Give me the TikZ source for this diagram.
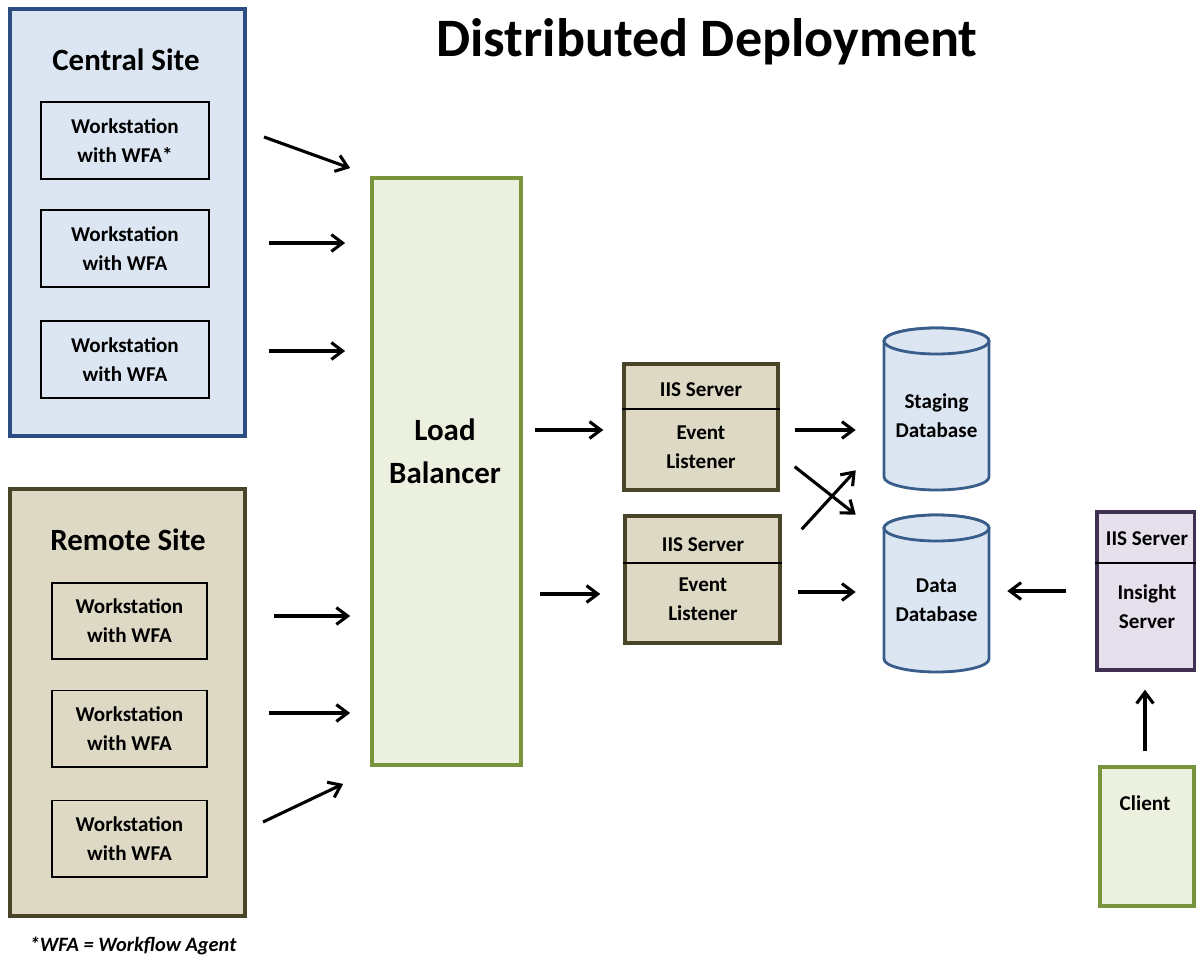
\documentclass[tikz,border=0pt]{standalone}
\usepackage{fontspec}
\setmainfont{Carlito}
\usetikzlibrary{calc,arrows.meta}
\definecolor{bluefill}{RGB}{220,230,242}
\definecolor{bluedraw}{RGB}{44,77,130}
\definecolor{dbdraw}{RGB}{56,93,138}
\definecolor{tanfill}{RGB}{221,217,196}
\definecolor{tandraw}{RGB}{73,69,41}
\definecolor{greenfill}{RGB}{235,241,222}
\definecolor{greendraw}{RGB}{119,147,60}
\definecolor{purpfill}{RGB}{229,224,236}
\definecolor{purpdraw}{RGB}{64,49,82}

\begin{document}
\begin{tikzpicture}[x=0.025cm,y=-0.025cm,
    font=\fontsize{15}{20.5}\selectfont\bfseries,
    txt/.style={align=center},
    bigtxt/.style={font=\fontsize{22}{30.6}\selectfont\bfseries, align=center},
    site/.style={draw, line width=2.4pt, minimum width=5.875cm, minimum height=10.675cm},
    wsbox/.style={draw=black, line width=1.4pt, align=center},
    server/.style={draw=tandraw, fill=tanfill, line width=2.4pt},
    db/.style={draw=dbdraw, fill=bluefill, line width=2pt},
    arr/.style={-{Straight Barb[length=2.8mm,width=4.2mm]}, line width=2.2pt}]
\useasboundingbox (0,0) rectangle (1196,958);

\node[font=\fontsize{38.5}{44}\selectfont\bfseries] (title) at (707,42) {Distributed Deployment};

\node[site, draw=bluedraw, fill=bluefill] (central) at (127.5,222.5) {};
\node[site, draw=tandraw, fill=tanfill] (remote) at (127.5,702.5) {};
\node[bigtxt] (centraltitle) at (126,60) {Central Site};
\node[bigtxt] (remotetitle) at (128,540) {Remote Site};

\node[wsbox, minimum width=4.2cm, minimum height=1.925cm] (ws1) at (125,140.5) {Workstation\\with WFA*};
\foreach \n/\y in {2/248.5, 3/359.5}
    \node[wsbox, minimum width=4.2cm, minimum height=1.925cm] (ws\n) at (125,\y) {Workstation\\with WFA};
\foreach \n/\y in {1/621, 2/728.5, 3/838.5}
    \node[wsbox, minimum width=3.875cm, minimum height=1.9cm] (rs\n) at (129.5,\y) {Workstation\\with WFA};

\node[font=\fontsize{14.5}{17}\selectfont\bfseries\itshape] (note) at (133,946) {*WFA = Workflow Agent};

\node[draw=greendraw, fill=greenfill, line width=2.6pt, minimum width=3.725cm, minimum height=14.675cm] (lb) at (446.5,471.5) {};
\node[bigtxt] (lbtext) at (445,451.5) {Load\\Balancer};

\node[server, minimum width=3.85cm, minimum height=3.15cm] (iis1) at (701,427) {};
\node[server, minimum width=3.875cm, minimum height=3.175cm] (iis2) at (702.5,579.5) {};
\draw[line width=1.2pt] ($(iis1.north west)+(0,47)$) -- ($(iis1.north east)+(0,47)$);
\draw[line width=1.2pt] ($(iis2.north west)+(0,49)$) -- ($(iis2.north east)+(0,49)$);
\node[txt] (iis1top) at (701,390) {IIS Server};
\node[txt] (iis1bot) at (701,447.5) {Event\\Listener};
\node[txt] (iis2top) at (703,545) {IIS Server};
\node[txt] (iis2bot) at (703,599) {Event\\Listener};

\foreach \yt/\yb in {328/490, 515/672} {
    \filldraw[db] (884,\yt+13) -- (884,\yb-13) arc[start angle=180, end angle=0, x radius=52.5, y radius=13]
        -- (989,\yt+13) arc[start angle=0, end angle=-180, x radius=52.5, y radius=13] -- cycle;
    \draw[db] (936.5,\yt+13) ellipse[x radius=52.5, y radius=13];
}
\node[txt, minimum width=2.625cm, minimum height=3.725cm] (stg) at (936.5,415.5) {Staging\\Database};
\node[txt, minimum width=2.625cm, minimum height=3.6cm] (dat) at (936.5,600) {Data\\Database};

\node[draw=purpdraw, fill=purpfill, line width=2.4pt, minimum width=2.45cm, minimum height=3.95cm] (ins) at (1146,591) {};
\draw[line width=1.2pt] ($(ins.north west)+(0,53)$) -- ($(ins.north east)+(0,53)$);
\node[txt] (instop) at (1147,539) {IIS Server};
\node[txt] (insbot) at (1147,607) {Insight\\Server};
\node[draw=greendraw, fill=greenfill, line width=2.6pt, minimum width=2.35cm, minimum height=3.475cm] (cli) at (1147,836.5) {};
\node[txt] (clitext) at (1145,803) {Client};

\draw[arr] ($(ws1.east)+(54,-3.5)$) -- ($(lb.north west)+(-20,-8)$);
\draw[arr] ($(ws2.east)+(59,-5.5)$) -- ($(ws2.east -| lb.west)+(-25,-5.5)$);
\draw[arr] ($(ws3.east)+(59,-8.5)$) -- ($(ws3.east -| lb.west)+(-25,-8.5)$);
\draw[arr] ($(rs1.east)+(66,-5)$) -- ($(rs1.east -| lb.west)+(-20,-5)$);
\draw[arr] ($(rs2.east)+(61,-15.5)$) -- ($(rs2.east -| lb.west)+(-20,-15.5)$);
\draw[arr] ($(rs3.east)+(55,-16.5)$) -- ($(lb.south west)+(-27,17)$);
\draw[arr] ($(lb.east |- iis1.west)+(12,3)$) -- ($(iis1.west)+(-19,3)$);
\draw[arr] ($(lb.east |- iis2.west)+(17,14.5)$) -- ($(iis2.west)+(-23,14.5)$);
\draw[arr] ($(iis1.east)+(15,3)$) -- ($(iis1.east -| stg.west)+(-28,3)$);
\draw[arr] ($(iis2.east)+(16,12.5)$) -- ($(iis2.east -| dat.west)+(-28,12.5)$);
\draw[arr] ($(iis1.south east)+(15,-25)$) -- ($(dat.north west)+(-28,-13)$);
\draw[arr] ($(iis2.north east)+(20,15)$) -- ($(stg.south west)+(-28,-20)$);
\draw[arr] ($(ins.west)+(-29,0)$) -- ($(dat.east)+(18,-9)$);
\draw[arr] ($(cli.north)+(-2,-14)$) -- ($(ins.south)+(-1,18)$);
\end{tikzpicture}
\end{document}
